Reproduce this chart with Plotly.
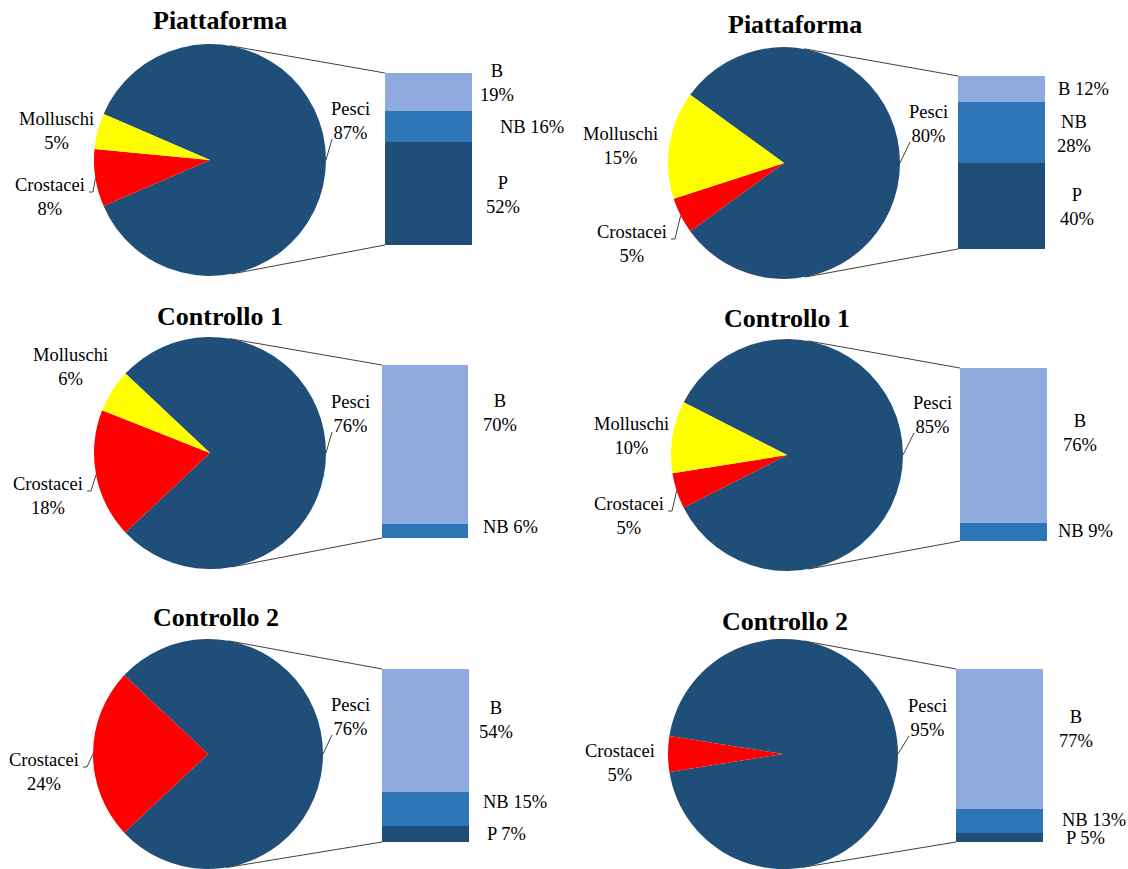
import math
import plotly.graph_objects as go

W, H = 1128, 869

# ---- data -------------------------------------------------------------
panel_titles = ["Piattaforma", "Piattaforma", "Controllo 1", "Controllo 1",
                "Controllo 2", "Controllo 2"]

pie_categories = ["Pesci", "Crostacei", "Molluschi"]
pesci = [87, 80, 76, 85, 76, 95]
crostacei = [8, 5, 18, 5, 24, 5]
molluschi = [5, 15, 6, 10, 0, 0]

# breakdown of "Pesci", stacked from the bottom up
bar_categories = ["P", "NB", "B"]
p_vals = [52, 40, 0, 0, 7, 5]
nb_vals = [16, 28, 6, 9, 15, 13]
b_vals = [19, 12, 70, 76, 54, 77]

# ---- styling ----------------------------------------------------------
COLORS = {
    "Pesci": "#1F4E79", "Crostacei": "#FF0000", "Molluschi": "#FFFF00",
    "P": "#1F4E79", "NB": "#2E75B6", "B": "#8FAADC",
}
LABEL_FONT = dict(family="Liberation Serif, Times New Roman, serif", size=18.5, color="#000000")
TITLE_FONT = dict(family="Liberation Serif, Times New Roman, serif", size=26, color="#000000")
LINE_COLOR = "#404040"

# panel geometry in pixels: pie centre/radius, bar box, title centre
geom = [
    dict(cx=210, cy=160, r=116, bx0=385, bx1=472, by0=73, by1=245, tx=220, ty=21),
    dict(cx=784, cy=163, r=116, bx0=958, bx1=1045, by0=76, by1=249, tx=795, ty=25),
    dict(cx=210, cy=453, r=116, bx0=382, bx1=468, by0=365, by1=538, tx=220, ty=316),
    dict(cx=787, cy=455, r=116, bx0=960, bx1=1047, by0=368, by1=541, tx=787, ty=318),
    dict(cx=208, cy=754, r=115, bx0=382, bx1=469, by0=669, by1=842, tx=216, ty=617),
    dict(cx=783, cy=754, r=115, bx0=956, bx1=1043, by0=669, by1=842, tx=785, ty=621),
]

# label centres (pixels) for pie slices
pie_label_pos = [
    {"Pesci": (350, 121), "Crostacei": (50, 197), "Molluschi": (57, 131)},
    {"Pesci": (928, 124), "Crostacei": (632, 244), "Molluschi": (620, 146)},
    {"Pesci": (350, 414), "Crostacei": (48, 496), "Molluschi": (70, 367)},
    {"Pesci": (932, 415), "Crostacei": (629, 516), "Molluschi": (631, 436)},
    {"Pesci": (350, 717), "Crostacei": (44, 772)},
    {"Pesci": (927, 718), "Crostacei": (620, 763)},
]
crost_leader = [True, True, True, True, True, False]

# label centres (pixels) for bar segments, and whether split on two lines
bar_label_pos = [
    {"B": (497, 83, True), "NB": (532, 127, False), "P": (503, 195, True)},
    {"B": (1083, 89, False), "NB": (1074, 134, True), "P": (1077, 207, True)},
    {"B": (500, 413, True), "NB": (510, 527, False)},
    {"B": (1080, 433, True), "NB": (1085, 531, False)},
    {"B": (496, 720, True), "NB": (515, 802, False), "P": (506, 834, False)},
    {"B": (1076, 729, True), "NB": (1094, 820, False), "P": (1085, 838, False)},
]


def px(x):
    return x / W


def py(y):
    return 1 - y / H


def edge_point(g, deg):
    a = math.radians(deg)
    return g["cx"] + g["r"] * math.cos(a), g["cy"] - g["r"] * math.sin(a)


def tangent_point(g, qx, qy, upper):
    dx, dy = qx - g["cx"], g["cy"] - qy
    d = math.hypot(dx, dy)
    phi = math.atan2(dy, dx)
    off = math.acos(g["r"] / d)
    a = phi + off if upper else phi - off
    return g["cx"] + g["r"] * math.cos(a), g["cy"] - g["r"] * math.sin(a)


fig = go.Figure()
annotations = []
shapes = []

for i, g in enumerate(geom):
    pie_vals = {"Pesci": pesci[i], "Crostacei": crostacei[i], "Molluschi": molluschi[i]}
    labels = [c for c in pie_categories if pie_vals[c] > 0]
    values = [pie_vals[c] for c in labels]

    # pie with the "Pesci" slice centred at 3 o'clock, the rest on the left
    fig.add_trace(go.Pie(
        labels=labels, values=values, sort=False, direction="clockwise",
        rotation=90 - 1.8 * pesci[i], textinfo="none", hoverinfo="label+percent",
        marker=dict(colors=[COLORS[c] for c in labels], line=dict(width=0)),
        domain=dict(x=[px(g["cx"] - g["r"]), px(g["cx"] + g["r"])],
                    y=[max(0, py(g["cy"] + g["r"])), min(1, py(g["cy"] - g["r"]))]),
        showlegend=False,
    ))

    # stacked bar breaking down "Pesci"
    n = i + 1
    xa = "x" if n == 1 else f"x{n}"
    ya = "y" if n == 1 else f"y{n}"
    bar_vals = {"P": p_vals[i], "NB": nb_vals[i], "B": b_vals[i]}
    for c in bar_categories:
        if bar_vals[c] <= 0:
            continue
        fig.add_trace(go.Bar(
            x=[0], y=[bar_vals[c]], width=[1], xaxis=xa, yaxis=ya,
            marker=dict(color=COLORS[c], line=dict(width=0)),
            showlegend=False, hoverinfo="y",
        ))
    axis_common = dict(visible=False, fixedrange=True)
    fig.update_layout(**{
        ("xaxis" if n == 1 else f"xaxis{n}"): dict(
            domain=[px(g["bx0"]), px(g["bx1"])], range=[-0.5, 0.5],
            anchor=ya, **axis_common),
        ("yaxis" if n == 1 else f"yaxis{n}"): dict(
            domain=[py(g["by1"]), py(g["by0"])], range=[0, pesci[i]],
            anchor=xa, **axis_common),
    })

    # connector lines from the bar corners, tangent to the pie
    for qy, upper in ((g["by0"], True), (g["by1"], False)):
        tx, ty = tangent_point(g, g["bx0"], qy, upper)
        shapes.append(dict(type="line", xref="paper", yref="paper",
                           x0=px(tx), y0=py(ty), x1=px(g["bx0"]), y1=py(qy),
                           line=dict(color=LINE_COLOR, width=1)))

    # title
    annotations.append(dict(text=f"<b>{panel_titles[i]}</b>", x=px(g["tx"]), y=py(g["ty"]),
                            xref="paper", yref="paper", showarrow=False,
                            xanchor="center", yanchor="middle", font=TITLE_FONT))

    # pie labels
    for c in labels:
        lx, ly = pie_label_pos[i][c]
        annotations.append(dict(text=f"{c}<br>{pie_vals[c]}%", x=px(lx), y=py(ly),
                                xref="paper", yref="paper", showarrow=False,
                                xanchor="center", yanchor="middle", font=LABEL_FONT))

    # leader line for "Pesci": pie edge at mid-slice up to the label
    lx, ly = pie_label_pos[i]["Pesci"]
    ex, ey = edge_point(g, 0)
    shapes.append(dict(type="line", xref="paper", yref="paper",
                       x0=px(ex), y0=py(ey), x1=px(lx - 18), y1=py(ly + 18),
                       line=dict(color=LINE_COLOR, width=1)))

    # leader line for "Crostacei"
    if crost_leader[i]:
        rest = 100 - pesci[i]
        start = 180 - 1.8 * rest + 3.6 * molluschi[i]
        mid = start + 1.8 * crostacei[i]
        ex, ey = edge_point(g, mid)
        lx, ly = pie_label_pos[i]["Crostacei"]
        right = lx + 38
        base = ly - 11 + 6
        path = (f"M {px(right + 1)} {py(base)} L {px(right + 5)} {py(base)} "
                f"L {px(ex)} {py(ey)}")
        shapes.append(dict(type="path", xref="paper", yref="paper", path=path,
                           line=dict(color=LINE_COLOR, width=1)))

    # bar labels
    for c in bar_categories:
        if bar_vals[c] <= 0:
            continue
        lx, ly, two = bar_label_pos[i][c]
        sep = "<br>" if two else " "
        txt = f"{c}{sep}{bar_vals[c]}%"
        annotations.append(dict(text=txt, x=px(lx), y=py(ly), xref="paper", yref="paper",
                                showarrow=False, xanchor="center", yanchor="middle",
                                font=LABEL_FONT))

fig.update_layout(
    width=W, height=H, margin=dict(l=0, r=0, t=0, b=0),
    paper_bgcolor="white", plot_bgcolor="rgba(0,0,0,0)",
    barmode="stack", bargap=0, showlegend=False,
    annotations=annotations, shapes=shapes,
)

fig.write_html("out.html")
